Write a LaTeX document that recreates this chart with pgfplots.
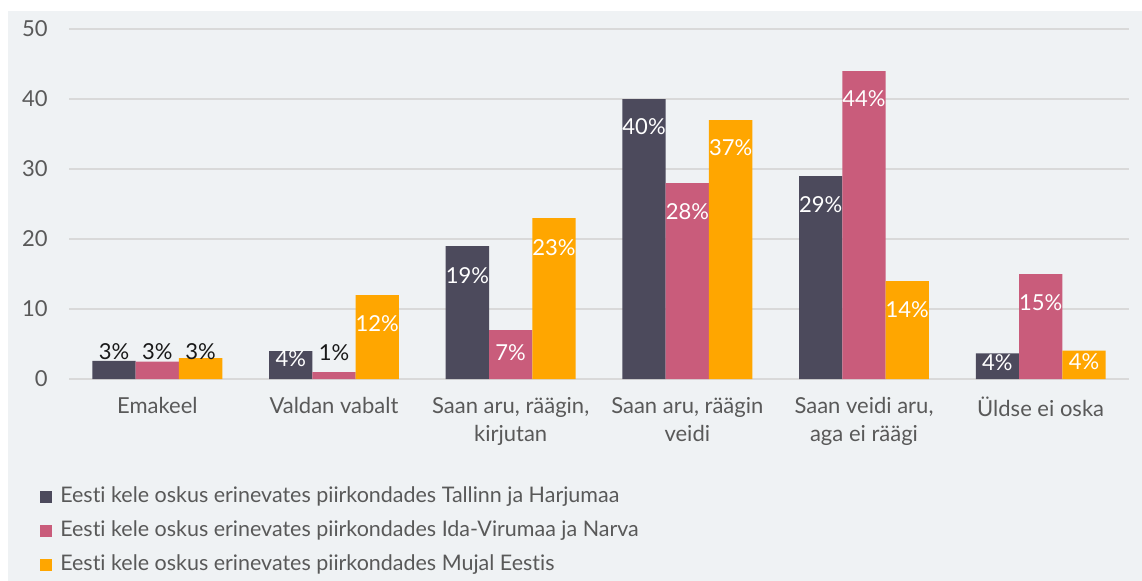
\documentclass[border=0pt]{standalone}
\usepackage{fontspec}
\setmainfont{Lato}[Ligatures=NoCommon]
\usepackage{pgfplots}
\pgfplotsset{compat=1.18}
\definecolor{bgc}{HTML}{EFF2F4}
\definecolor{cA}{HTML}{4C4A5C}
\definecolor{cB}{HTML}{C95C7B}
\definecolor{cC}{HTML}{FFA600}
\definecolor{txt}{HTML}{595959}
\definecolor{gridc}{HTML}{D9D9D9}
\begin{document}
\begin{tikzpicture}
\fill[bgc] (6pt,-8.25pt) rectangle (856.5pt,-435.75pt);
\begin{axis}[
  at={(51.75pt,-284.25pt)}, anchor=south west,
  scale only axis, width=795pt, height=262.5pt,
  xmin=-0.5, xmax=5.5, ymin=0, ymax=50,
  ytick={0,10,...,50},
  xtick={0,...,5},
  xticklabels={Emakeel, Valdan vabalt, {Saan aru, räägin,\\kirjutan}, {Saan aru, räägin\\veidi}, {Saan veidi aru,\\aga ei räägi}, Üldse ei oska},
  axis line style={draw=none},
  major tick length=0pt,
  ymajorgrids, grid style={gridc, line width=1.3pt},
  tick label style={text=txt, font=\fontsize{16.5}{21}\selectfont},
  /pgf/number format/assume math mode=true,
  xticklabel style={align=center, yshift=-10pt},
  yticklabel style={xshift=-12.5pt},
  legend style={at={(-0.02736,-0.3067)}, anchor=north west, draw=none, fill=none,
    inner sep=0pt, row sep=9.5pt, text=txt, font=\fontsize{16.1}{20}\selectfont,
    nodes={inner sep=0pt, text height=12pt, text depth=4pt},
    cells={anchor=west}, column sep=6pt},
  legend image code/.code={\fill[#1] (0pt,-4.5pt) rectangle (9pt,4.5pt);},
]
\addplot[ybar, bar width=0.245, bar shift=-0.245, fill=cA, draw=none]
  coordinates {(0,2.6) (1,4) (2,19) (3,40) (4,29) (5,3.67)};
\addlegendentry{Eesti kele oskus erinevates piirkondades Tallinn ja Harjumaa}
\addplot[ybar, bar width=0.245, bar shift=0, fill=cB, draw=none]
  coordinates {(0,2.5) (1,1) (2,7) (3,28) (4,44) (5,15)};
\addlegendentry{Eesti kele oskus erinevates piirkondades Ida-Virumaa ja Narva}
\addplot[ybar, bar width=0.245, bar shift=0.245, fill=cC, draw=none]
  coordinates {(0,3) (1,12) (2,23) (3,37) (4,14) (5,4.04)};
\addlegendentry{Eesti kele oskus erinevates piirkondades Mujal Eestis}

\addplot[forget plot, only marks, mark=*, mark size=0pt,
  mark options={draw opacity=0, fill opacity=0},
  point meta=explicit symbolic, nodes near coords={\pgfplotspointmeta\%},
  nodes near coords style={anchor=center, text=white, text opacity=1, font=\fontsize{16.5}{20}\selectfont}]
  table[meta=lab] {
x y lab
0.755 2.86 4
1.755 14.7 19
2.755 36 40
3.755 24.9 29
4.755 2.3 4
2 3.7 7
3 23.9 28
4 40 44
5 10.9 15
1.245 7.86 12
2.245 18.8 23
3.245 33 37
4.245 9.9 14
5.245 2.5 4
};
\addplot[forget plot, only marks, mark=*, mark size=0pt,
  mark options={draw opacity=0, fill opacity=0},
  point meta=explicit symbolic, nodes near coords={\pgfplotspointmeta\%},
  nodes near coords style={anchor=center, text=black!90, text opacity=1, font=\fontsize{16.5}{20}\selectfont}]
  table[meta=lab] {
x y lab
-0.245 3.86 3
0 3.86 3
0.245 3.86 3
1 3.76 1
};
\end{axis}
\pgfresetboundingbox
\path[use as bounding box] (0,0) rectangle (856.5pt,-435.75pt);
\end{tikzpicture}
\end{document}
